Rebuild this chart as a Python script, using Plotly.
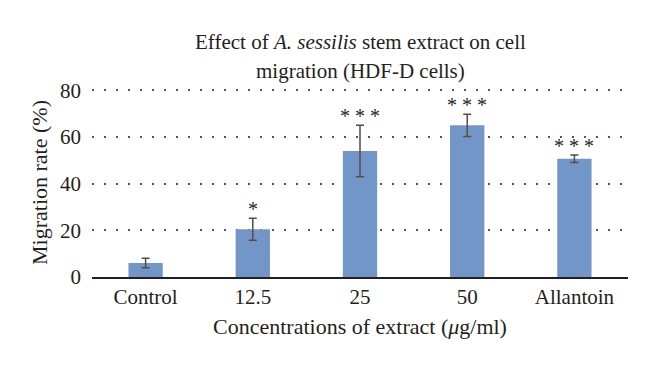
import plotly.graph_objects as go

categories = ["Control", "12.5", "25", "50", "Allantoin"]
migration_rate = [6.0, 20.5, 54.0, 65.0, 50.7]
error_sd = [2.0, 4.7, 11.0, 4.8, 1.6]
significance = ["", "*", "* * *", "* * *", "* * *"]
y_ticks = [0, 20, 40, 60, 80]
title_lines = ["Effect of <i>A. sessilis</i> stem extract on cell",
               "migration (HDF-D cells)"]

FONT = "Liberation Serif"
TXT = "#231f20"

fig = go.Figure()
fig.add_trace(go.Bar(
    x=categories, y=migration_rate,
    marker=dict(color="#7396c9", line=dict(width=0)),
    error_y=dict(type="data", array=error_sd, visible=True,
                 color="#5a4a44", thickness=1.5, width=4),
    width=0.32,
))

for i, (m, e, s) in enumerate(zip(migration_rate, error_sd, significance)):
    if s:
        fig.add_annotation(x=i, y=m + e, text=s, showarrow=False,
                           xref="x", yref="y",
                           yanchor="bottom", yshift=-4,
                           font=dict(family=FONT, size=20, color=TXT))

# title lines (plot area spans 88..277 px on page => 189 px)
for line, py in zip(title_lines, [42, 71]):
    fig.add_annotation(text=line, showarrow=False, xref="paper", yref="paper",
                       x=0.5, xanchor="center", y=(277 - py) / 189, yanchor="middle",
                       font=dict(family=FONT, size=21, color=TXT))

# page has an 8px body margin, so the layout is offset accordingly
fig.update_layout(
    width=652, height=362,
    margin=dict(l=84, r=32, t=80, b=93, autoexpand=False),
    paper_bgcolor="white", plot_bgcolor="white",
    showlegend=False,
    font=dict(family=FONT, size=21, color=TXT),
    xaxis=dict(
        type="category", range=[-0.5, 4.5], automargin=False,
        showline=True, linecolor="#231f20", linewidth=1.5,
        ticks="", tickfont=dict(family=FONT, size=21, color=TXT),
        title=dict(text="Concentrations of extract (<i>μ</i>g/ml)", standoff=11,
                   font=dict(family=FONT, size=22, color=TXT)),
    ),
    yaxis=dict(
        range=[0, 81], tickvals=y_ticks, showline=False, zeroline=False, automargin=False,
        showgrid=True, gridcolor="#555555", gridwidth=1.5, griddash="1.5px,10.5px",
        ticks="", ticklen=0, ticklabelstandoff=10,
        tickfont=dict(family=FONT, size=21, color=TXT),
        title=dict(text="Migration rate (%)", standoff=6,
                   font=dict(family=FONT, size=22, color=TXT)),
    ),
)

fig.write_html("out.html")
